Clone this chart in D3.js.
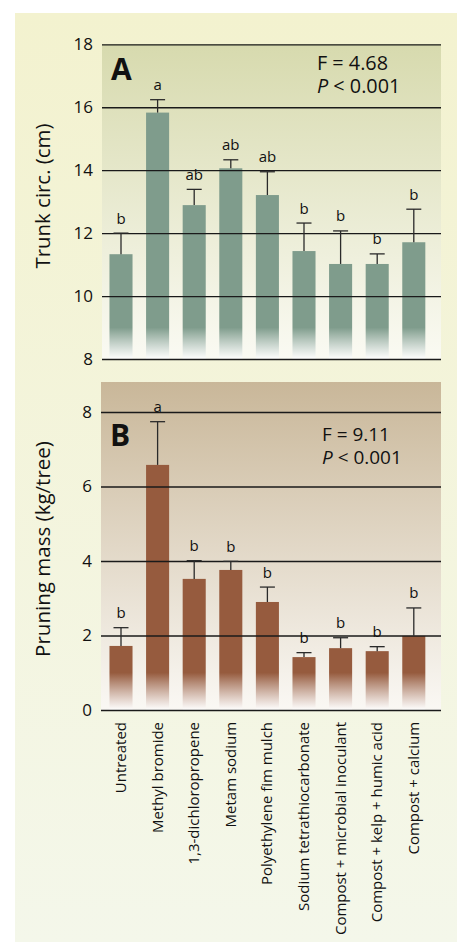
<!DOCTYPE html>
<html><head><meta charset="utf-8">
<script src="https://cdn.jsdelivr.net/npm/d3@7"></script>
<style>body{margin:0;background:#fff;}svg{display:block;}text{font-family:"Open Sans","Noto Sans",sans-serif;}</style>
</head><body><svg id="c" width="457" height="943"></svg>
<script>
const categories = ["Untreated","Methyl bromide","1,3-dichloropropene","Metam sodium","Polyethylene fim mulch","Sodium tetrathiocarbonate","Compost + microbial inoculant","Compost + kelp + humic acid","Compost + calcium"];
const trunkMean = [11.33,15.83,12.89,14.06,13.21,11.43,11.02,11.02,11.71];
const trunkUpper = [12.0,16.24,13.39,14.33,13.95,12.32,12.07,11.34,12.76];
const trunkLetters = ["b","a","ab","ab","ab","b","b","b","b"];
const pruneMean = [1.72,6.58,3.52,3.76,2.90,1.42,1.66,1.58,1.99];
const pruneUpper = [2.21,7.74,4.01,3.99,3.30,1.54,1.94,1.70,2.74];
const pruneLetters = ["b","a","b","b","b","b","b","b","b"];
const trunkTicks = [8,10,12,14,16,18];
const pruneTicks = [0,2,4,6,8];

const svg = d3.select("#c");
const defs = svg.append("defs");
function lg(id, stops, x1,y1,x2,y2, user){
  const g = defs.append("linearGradient").attr("id",id).attr("x1",x1).attr("y1",y1).attr("x2",x2).attr("y2",y2);
  if(user) g.attr("gradientUnits","userSpaceOnUse");
  stops.forEach(s=>g.append("stop").attr("offset",s[0]).attr("stop-color",s[1]).attr("stop-opacity",s[2]==null?1:s[2]));
}
function fitSize(node, fs, target){
  const w = node.getComputedTextLength(); return w>0 ? fs*target/w : fs;
}
lg("outer",[[0,"#f3f2cf"],[1,"#f4f7ea"]],0,0,0,1);
lg("bgA",[[0,"#d7daae"],[1,"#fafaf3"]],0,0,0,1);
lg("bgB",[[0,"#c9b799"],[1,"#faf8f4"]],0,0,0,1);

svg.append("rect").attr("x",15).attr("y",13).attr("width",442).attr("height",929).attr("fill","url(#outer)");

const x = d3.scaleBand().domain(categories).range([102.7,432.1]).paddingInner(0.37).paddingOuter(0.185);

function panel(o){
  const y = d3.scaleLinear().domain(o.domain).range([o.y0,o.y1]);
  const base = o.domain[0];
  svg.append("rect").attr("x",o.left).attr("y",o.bgTop).attr("width",o.right-o.left).attr("height",o.y0-o.bgTop).attr("fill",o.bg);
  lg(o.id+"bar",[[0,o.color],[1,"#ffffff",0.85]],0,y(base+1),0,y(base),true);
  svg.append("g").selectAll("rect").data(o.mean).join("rect")
    .attr("x",(d,i)=>x(categories[i])).attr("width",x.bandwidth())
    .attr("y",d=>y(d)).attr("height",d=>y(base)-y(d)).attr("fill","url(#"+o.id+"bar)");
  const ax = svg.append("g").attr("transform",`translate(${o.left},0)`)
    .call(d3.axisLeft(y).tickValues(o.ticks).tickSize(-(o.right-o.left)).tickPadding(9).tickFormat(d3.format("d")));
  ax.select(".domain").remove();
  ax.selectAll("line").attr("stroke","#1a1a1a").attr("stroke-width",1.3);
  ax.selectAll("text").attr("font-size",17).attr("fill","#111");
  ax.selectAll(".tick").filter(d=>d===base).select("line").attr("stroke-width",1.7);
  const e = svg.append("g").attr("stroke","#2a2a2a").attr("stroke-width",1.3);
  o.mean.forEach((m,i)=>{
    const cx = x(categories[i])+x.bandwidth()/2;
    e.append("line").attr("x1",cx).attr("x2",cx).attr("y1",y(m)).attr("y2",y(o.upper[i]));
    e.append("line").attr("x1",cx-7.5).attr("x2",cx+7.5).attr("y1",y(o.upper[i])).attr("y2",y(o.upper[i]));
  });
  svg.append("g").selectAll("text").data(o.letters).join("text")
    .attr("x",(d,i)=>x(categories[i])+x.bandwidth()/2).attr("y",(d,i)=>y(o.upper[i])-9.5)
    .attr("text-anchor","middle").attr("font-size",15).attr("fill","#111").text(d=>d);
  svg.append("text").attr("x",o.left+9).attr("y",o.labelY).attr("font-size",30).attr("font-weight","bold").attr("fill","#111").text(o.label);
  const st = svg.append("text").attr("x",o.statX).attr("y",o.statY).attr("font-size",19).attr("fill","#111");
  const t1 = st.append("tspan").attr("x",o.statX).text(o.F);
  st.append("tspan").attr("x",o.statX).attr("dy",23).attr("font-style","italic").text("P");
  st.append("tspan").text(" < 0.001");
  st.attr("font-size", fitSize(t1.node(), 19, o.Flen));
  const tt = svg.append("text").attr("transform",`translate(50,${o.titleY}) rotate(-90)`).attr("text-anchor","middle")
    .attr("font-size",18).attr("fill","#111").text(o.title);
  tt.attr("font-size", fitSize(tt.node(), 18, o.titleLen));
  return y;
}

panel({id:"A",domain:[8,18],y0:359,y1:44.3,bgTop:44.3,left:102,right:441,bg:"url(#bgA)",color:"#7f9c8c",
  mean:trunkMean,upper:trunkUpper,letters:trunkLetters,ticks:trunkTicks,label:"A",labelY:80,
  statX:317,statY:70,F:"F = 4.68",Flen:71,title:"Trunk circ. (cm)",titleY:196,titleLen:145});
panel({id:"B",domain:[0,8],y0:710,y1:412,bgTop:382,left:101,right:441,bg:"url(#bgB)",color:"#965b3e",
  mean:pruneMean,upper:pruneUpper,letters:pruneLetters,ticks:pruneTicks,label:"B",labelY:446,
  statX:322,statY:441,F:"F = 9.11",Flen:68,title:"Pruning mass (kg/tree)",titleY:549,titleLen:216});

const xl = svg.append("g").attr("font-size",13.2).attr("fill","#111");
xl.selectAll("text").data(categories).join("text")
  .attr("transform",d=>`translate(${x(d)+x.bandwidth()/2+5},722) rotate(-90)`)
  .attr("text-anchor","end").text(d=>d);
const longest = xl.select("text:nth-child(7)");
xl.attr("font-size", fitSize(longest.node(), 13.2, 213));
</script></body></html>
